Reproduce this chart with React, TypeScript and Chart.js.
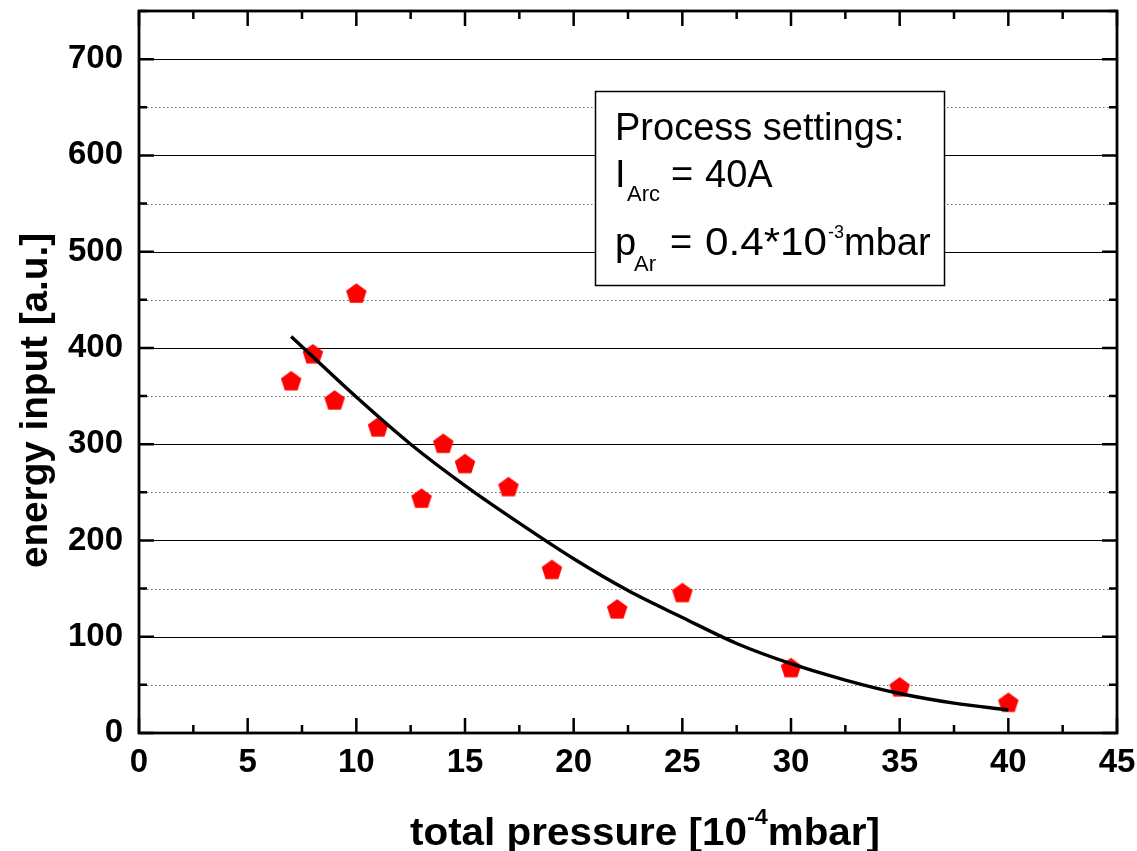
import React, { useEffect, useRef } from 'react';
import { Chart, registerables } from 'chart.js';
Chart.register(...registerables);

// measured points
const pressure = [7, 8, 9, 10, 11, 13, 14, 15, 17, 19, 22, 25, 30, 35, 40];
const energy = [366, 394, 346, 457, 318, 244, 301, 280, 256, 170, 129, 146, 68, 48, 32];
// fitted curve
const fitPressure = [7, 10, 12.5, 15, 17.5, 20, 22.5, 25, 27.5, 30, 32.5, 35, 37.5, 40];
const fitEnergy = [412, 349, 300, 257, 218, 181, 148, 120, 93, 72, 55, 41, 31, 24];
// axes
const xMin = 0, xMax = 45, xMajorStep = 5, xMinorStep = 2.5;
const yMin = 0, yMax = 750, yMajorStep = 100, yMinorStep = 50;

const FONT = "'Liberation Sans', Arial, sans-serif";

function makePentagon(): HTMLCanvasElement {
  const c = document.createElement('canvas');
  c.width = 24; c.height = 24;
  const ctx = c.getContext('2d')!;
  const R = 10.8;
  const cx = 12, cy = 12 + (R - R * Math.cos(Math.PI / 5)) / 2;
  ctx.fillStyle = '#ff0000';
  ctx.beginPath();
  for (let i = 0; i < 5; i++) {
    const a = -Math.PI / 2 + i * 2 * Math.PI / 5;
    const px = cx + R * Math.cos(a), py = cy + R * Math.sin(a);
    if (i === 0) ctx.moveTo(px, py); else ctx.lineTo(px, py);
  }
  ctx.closePath();
  ctx.fill();
  return c;
}

const framePlugin = {
  id: 'originFrame',
  beforeDatasetsDraw(chart: any) {
    const { ctx, chartArea: a, scales } = chart;
    const y = scales.y;
    ctx.save();
    for (let v = yMin + yMinorStep; v < yMax; v += yMinorStep) {
      const py = Math.round(y.getPixelForValue(v)) + 0.5;
      ctx.beginPath();
      if (v % yMajorStep === 0) {
        ctx.setLineDash([]);
        ctx.strokeStyle = '#000';
        ctx.lineWidth = 1;
      } else {
        ctx.setLineDash([1.5, 2.5]);
        ctx.strokeStyle = '#666';
        ctx.lineWidth = 1;
      }
      ctx.moveTo(a.left, py);
      ctx.lineTo(a.right, py);
      ctx.stroke();
    }
    ctx.restore();
  },
  afterDatasetsDraw(chart: any) {
    const { ctx, chartArea: a, scales } = chart;
    const x = scales.x, y = scales.y;
    ctx.save();
    ctx.setLineDash([]);
    ctx.strokeStyle = '#000';
    ctx.lineWidth = 2.5;
    for (let v = xMin; v <= xMax + 1e-9; v += xMinorStep) {
      const px = x.getPixelForValue(v);
      const len = Math.abs(v % xMajorStep) < 1e-9 ? 15 : 8;
      ctx.beginPath();
      ctx.moveTo(px, a.bottom); ctx.lineTo(px, a.bottom - len);
      ctx.moveTo(px, a.top); ctx.lineTo(px, a.top + len);
      ctx.stroke();
    }
    for (let v = yMin; v <= yMax; v += yMinorStep) {
      const py = y.getPixelForValue(v);
      const len = v % yMajorStep === 0 ? 15 : 8;
      ctx.beginPath();
      ctx.moveTo(a.left, py); ctx.lineTo(a.left + len, py);
      ctx.moveTo(a.right, py); ctx.lineTo(a.right - len, py);
      ctx.stroke();
    }
    ctx.lineWidth = 2.8;
    ctx.strokeRect(a.left, a.top, a.right - a.left, a.bottom - a.top);
    ctx.restore();
  },
  afterDraw(chart: any) {
    const ctx: CanvasRenderingContext2D = chart.ctx;
    ctx.save();
    ctx.textBaseline = 'alphabetic';
    ctx.textAlign = 'left';

    // annotation box
    ctx.fillStyle = '#fff';
    ctx.fillRect(595, 91, 349, 194);
    ctx.strokeStyle = '#000';
    ctx.lineWidth = 1.5;
    ctx.strokeRect(595.5, 91.5, 349, 194);
    ctx.fillStyle = '#000';
    const big = `38px ${FONT}`;
    const sub = `22px ${FONT}`;
    const sup = `18px ${FONT}`;
    ctx.font = big;
    ctx.fillText('Process settings:', 615, 140);
    ctx.fillText('I', 615, 187);
    ctx.font = sub; ctx.fillText('Arc', 627, 201);
    ctx.font = big; ctx.fillText('=', 671, 187); ctx.fillText('40A', 705, 187);
    ctx.fillText('p', 615, 255);
    ctx.font = sub; ctx.fillText('Ar', 634, 271);
    ctx.font = big; ctx.fillText('=', 670, 255);
    const numTxt = '0.4*10';
    const nw = ctx.measureText(numTxt).width;
    ctx.save();
    ctx.translate(705, 255);
    ctx.scale(122 / nw, 1);
    ctx.fillText(numTxt, 0, 0);
    ctx.restore();
    ctx.font = sup; ctx.fillText('-3', 828, 238);
    ctx.font = big; ctx.fillText('mbar', 844, 255);

    // x axis title
    const tb = `bold 38px ${FONT}`;
    const ts = `bold 22px ${FONT}`;
    ctx.font = tb;
    const p1 = 'total pressure [10', p3 = 'mbar]', p2 = '-4';
    const w1 = ctx.measureText(p1).width, w3 = ctx.measureText(p3).width;
    ctx.font = ts; const w2 = ctx.measureText(p2).width;
    const total = w1 + w2 + w3;
    ctx.save();
    ctx.translate(410, 845);
    ctx.scale(470 / total, 1);
    ctx.font = tb; ctx.fillText(p1, 0, 0);
    ctx.font = ts; ctx.fillText(p2, w1, -21);
    ctx.font = tb; ctx.fillText(p3, w1 + w2, 0);
    ctx.restore();

    // y axis title
    ctx.save();
    ctx.translate(47, 568);
    ctx.rotate(-Math.PI / 2);
    ctx.font = tb;
    const yt = 'energy input [a.u.]';
    const yw = ctx.measureText(yt).width;
    ctx.scale(335 / yw, 1);
    ctx.fillText(yt, 0, 0);
    ctx.restore();

    ctx.restore();
  },
};

export default function App() {
  const ref = useRef<HTMLCanvasElement>(null);
  useEffect(() => {
    if (!ref.current) return;
    const tickFont = { family: FONT, weight: 'bold' as const, size: 33 };
    const chart = new Chart(ref.current, {
      type: 'scatter',
      data: {
        datasets: [
          {
            label: 'fit',
            data: fitPressure.map((x, i) => ({ x, y: fitEnergy[i] })),
            showLine: true,
            borderColor: '#000',
            borderWidth: 3.4,
            pointRadius: 0,
            cubicInterpolationMode: 'monotone',
            order: 1,
          } as any,
          {
            label: 'data',
            data: pressure.map((x, i) => ({ x, y: energy[i] })),
            pointStyle: makePentagon(),
            pointRadius: 10,
            backgroundColor: '#ff0000',
            borderColor: '#ff0000',
            showLine: false,
            order: 2,
          } as any,
        ],
      },
      options: {
        animation: false,
        responsive: false,
        layout: { padding: { top: 9, right: 20, left: 0, bottom: 0 } },
        plugins: { legend: { display: false }, tooltip: { enabled: false } },
        scales: {
          x: {
            type: 'linear',
            min: xMin,
            max: xMax,
            grid: { display: false, drawTicks: false },
            border: { display: false },
            ticks: {
              stepSize: xMinorStep,
              autoSkip: false,
              maxRotation: 0,
              color: '#000',
              font: tickFont,
              padding: 10,
              callback: (v: any) => (Math.abs(Number(v) % xMajorStep) < 1e-9 ? String(v) : ''),
            },
            afterFit: (s: any) => { s.height = 118; s.paddingLeft = 0; s.paddingRight = 0; },
          },
          y: {
            type: 'linear',
            min: yMin,
            max: yMax,
            grid: { display: false, drawTicks: false },
            border: { display: false },
            ticks: {
              stepSize: yMinorStep,
              autoSkip: false,
              color: '#000',
              font: tickFont,
              padding: 16,
              callback: (v: any) => (Number(v) % yMajorStep === 0 ? String(v) : ''),
            },
            afterFit: (s: any) => { s.width = 139; s.paddingTop = 0; s.paddingBottom = 0; },
          },
        },
      } as any,
      plugins: [framePlugin],
    });
    return () => chart.destroy();
  }, []);
  return (
    <div style={{ position: 'fixed', left: 0, top: 0, width: 1137, height: 851, background: '#fff' }}>
      <canvas ref={ref} width={1137} height={851} style={{ display: 'block' }} />
    </div>
  );
}
